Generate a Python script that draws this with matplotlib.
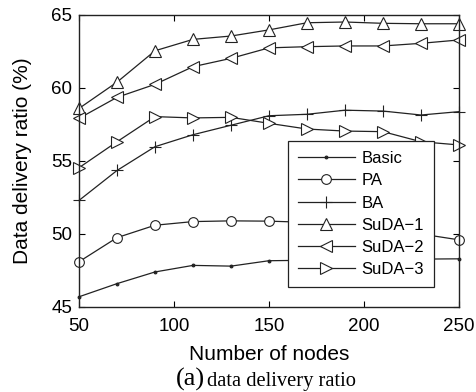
import matplotlib
matplotlib.use("Agg")
import matplotlib.pyplot as plt

nodes = [50, 70, 90, 110, 130, 150, 170, 190, 210, 230, 250]
basic = [45.7, 46.6, 47.4, 47.85, 47.8, 48.17, 48.2, 48.2, 48.25, 48.28, 48.3]
pa = [48.1, 49.75, 50.6, 50.85, 50.9, 50.88, 50.8, 50.6, 50.3, 50.0, 49.6]
ba = [52.3, 54.35, 55.98, 56.8, 57.45, 58.1, 58.2, 58.48, 58.42, 58.15, 58.38]
suda1 = [58.6, 60.4, 62.55, 63.33, 63.56, 63.98, 64.47, 64.52, 64.43, 64.4, 64.4]
suda2 = [57.92, 59.36, 60.25, 61.46, 62.03, 62.75, 62.83, 62.88, 62.88, 63.06, 63.29]
suda3 = [54.54, 56.32, 58.04, 57.95, 57.99, 57.58, 57.19, 57.05, 57.01, 56.32, 56.1]

series = [
    ("Basic", basic, dict(marker='.', markersize=4)),
    ("PA", pa, dict(marker='o', markersize=7, markerfacecolor='white')),
    ("BA", ba, dict(marker='+', markersize=8)),
    ("SuDA\u22121", suda1, dict(marker='^', markersize=8, markerfacecolor='white')),
    ("SuDA\u22122", suda2, dict(marker='<', markersize=8, markerfacecolor='white')),
    ("SuDA\u22123", suda3, dict(marker='>', markersize=8, markerfacecolor='white')),
]

plt.rcParams['font.family'] = ['Liberation Sans', 'DejaVu Sans']

fig = plt.figure(figsize=(4.76, 3.92), dpi=100)
ax = fig.add_axes([79/476, 1-307/392, (459-79)/476, (307-15)/392])

for name, vals, st in series:
    ax.plot(nodes, vals, color='#222222', linewidth=0.9, markeredgecolor='#222222',
            markeredgewidth=0.8, label=name, clip_on=False, **st)

ax.set_xlim(50, 250)
ax.set_ylim(45, 65)
ax.set_xticks([50, 100, 150, 200, 250])
ax.set_yticks([45, 50, 55, 60, 65])
ax.tick_params(direction='in', top=True, right=True, labelsize=13.5, length=4, width=0.8)
ax.tick_params(axis='x', pad=8)
ax.tick_params(axis='y', pad=5)
for s in ax.spines.values():
    s.set_linewidth(1.0)
    s.set_color('#222222')

ax.set_xlabel("Number of nodes", fontsize=15, labelpad=7)
ax.set_ylabel("Data delivery ratio (%)", fontsize=15, labelpad=14)

leg = ax.legend(loc='lower right', bbox_to_anchor=(434/476, 1-287/392), bbox_transform=fig.transFigure,
                borderaxespad=0,
                fontsize=12, frameon=True, fancybox=False, framealpha=1, edgecolor='#222222',
                handlelength=3.4, borderpad=0.6, labelspacing=0.43, handletextpad=0.4)
leg.get_frame().set_linewidth(0.9)

serif = ['Liberation Serif', 'DejaVu Serif']
fig.text(176/476, 1-386/392, "(a)", ha='left', va='baseline', fontsize=19, family=serif)
fig.text(207/476, 1-386/392, "data delivery ratio", ha='left', va='baseline', fontsize=14.8, family=serif)

fig.savefig("out.png", dpi=100)
